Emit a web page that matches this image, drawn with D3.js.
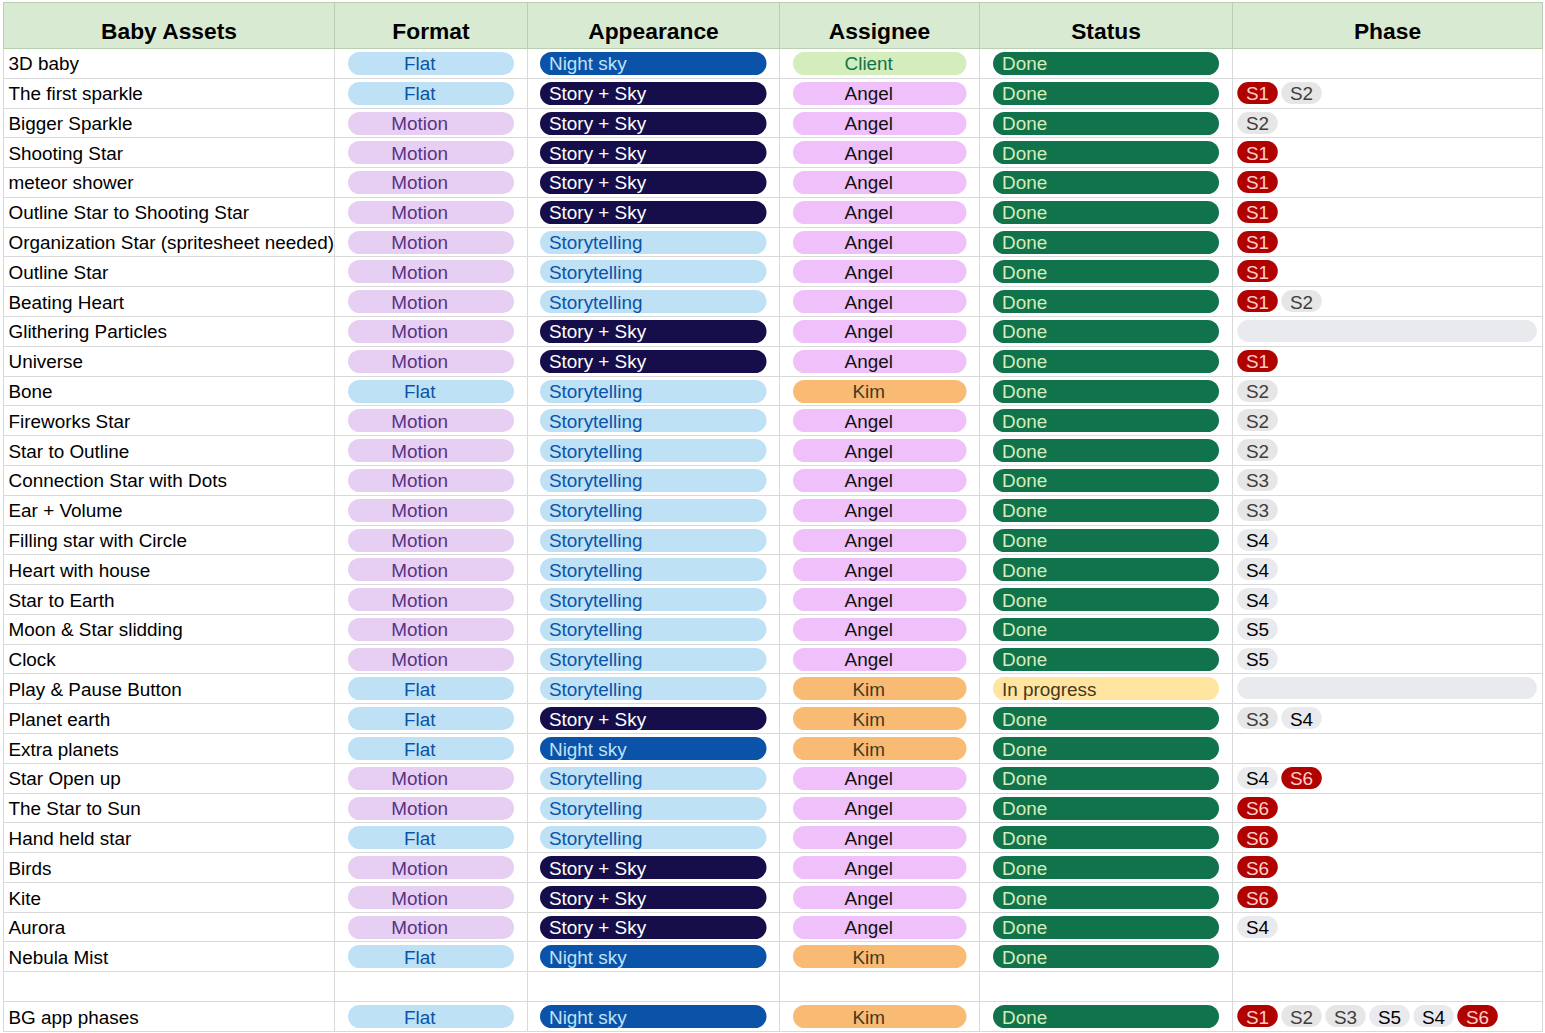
<!DOCTYPE html>
<html><head><meta charset="utf-8">
<script src="https://cdnjs.cloudflare.com/ajax/libs/d3/7.8.5/d3.min.js"></script>
<style>html,body{margin:0;padding:0;background:#fff}svg{display:block}text{font-family:"Liberation Sans",Arial,sans-serif}</style>
</head><body><svg id="c" width="1545" height="1033"></svg>
<script>
const headers=["Baby Assets","Format","Appearance","Assignee","Status","Phase"];
const assets=["3D baby","The first sparkle","Bigger Sparkle","Shooting Star","meteor shower","Outline Star to Shooting Star","Organization Star (spritesheet needed)","Outline Star","Beating Heart","Glithering Particles","Universe","Bone","Fireworks Star","Star to Outline","Connection Star with Dots","Ear + Volume","Filling star with Circle","Heart with house","Star to Earth","Moon & Star slidding","Clock","Play & Pause Button","Planet earth","Extra planets","Star Open up","The Star to Sun","Hand held star","Birds","Kite","Aurora","Nebula Mist","","BG app phases"];
const formats=["Flat","Flat","Motion","Motion","Motion","Motion","Motion","Motion","Motion","Motion","Motion","Flat","Motion","Motion","Motion","Motion","Motion","Motion","Motion","Motion","Motion","Flat","Flat","Flat","Motion","Motion","Flat","Motion","Motion","Motion","Flat","","Flat"];
const SS="Story + Sky",ST="Storytelling",NS="Night sky";
const appearances=[NS,SS,SS,SS,SS,SS,ST,ST,ST,SS,SS,ST,ST,ST,ST,ST,ST,ST,ST,ST,ST,ST,SS,NS,ST,ST,ST,SS,SS,SS,NS,"",NS];
const assignees=["Client","Angel","Angel","Angel","Angel","Angel","Angel","Angel","Angel","Angel","Angel","Kim","Angel","Angel","Angel","Angel","Angel","Angel","Angel","Angel","Angel","Kim","Kim","Kim","Angel","Angel","Angel","Angel","Angel","Angel","Kim","","Kim"];
const statuses=["Done","Done","Done","Done","Done","Done","Done","Done","Done","Done","Done","Done","Done","Done","Done","Done","Done","Done","Done","Done","Done","In progress","Done","Done","Done","Done","Done","Done","Done","Done","Done","","Done"];
// [""] marks a present-but-empty phase chip
const phases=[[],["S1","S2"],["S2"],["S1"],["S1"],["S1"],["S1"],["S1"],["S1","S2"],[""],["S1"],["S2"],["S2"],["S2"],["S3"],["S3"],["S4"],["S4"],["S4"],["S5"],["S5"],[""],["S3","S4"],[],["S4","S6"],["S6"],["S6"],["S6"],["S6"],["S4"],[],[],["S1","S2","S3","S5","S4","S6"]];

const colors={Flat:["#bfe1f6","#0a53a8"],Motion:["#e6cff2","#5a3286"],[NS]:["#0a53a8","#bfe1f6"],[SS]:["#150e4a","#ffffff"],[ST]:["#bfe1f6","#0a53a8"],Client:["#d4edbc","#11734b"],Angel:["#f0c0fb","#111111"],Kim:["#f9bb73","#473821"],Done:["#11734b","#d4edbc"],"In progress":["#ffe5a0","#473821"],S1:["#b10202","#ffcfc9"],S6:["#b10202","#ffcfc9"],S2:["#e6e6e6","#3d3d3d"],S3:["#e6e6e6","#3d3d3d"],S4:["#e8eaed","#000000"],S5:["#e8eaed","#000000"],"":["#e8eaed","#000"]};

const svg=d3.select("#c");
const colEdges=[3,334,527,779,979,1232,1542];
const yRaw=d3.scaleLinear().domain([0,33]).range([48,1030.8]);
const y=i=>Math.round(yRaw(i));
const tRaw=d3.scaleLinear().domain([0,33]).range([70.2,1053.6]);
const ty=i=>Math.round(tRaw(i));
const pillH=23;
const rows=d3.range(assets.length);

svg.append("rect").attr("x",3).attr("y",2).attr("width",1539).attr("height",46.5).attr("fill","#d9ead3");
svg.append("g").selectAll("line").data(d3.range(1,34)).join("line")
 .attr("x1",3).attr("x2",1543).attr("y1",d=>y(d)+.5).attr("y2",d=>y(d)+.5)
 .attr("stroke","#d9d9d9");
svg.append("g").selectAll("line").data(colEdges).join("line")
 .attr("x1",d=>d+.5).attr("x2",d=>d+.5).attr("y1",48).attr("y2",1032).attr("stroke","#d9d9d9");
svg.append("g").selectAll("line").data(colEdges).join("line")
 .attr("x1",d=>d+.5).attr("x2",d=>d+.5).attr("y1",2).attr("y2",48).attr("stroke","#b9cfb2");
svg.append("line").attr("x1",3).attr("x2",1543).attr("y1",2.5).attr("y2",2.5).attr("stroke","#b9cfb2");
svg.append("line").attr("x1",3).attr("x2",1543).attr("y1",48.5).attr("y2",48.5).attr("stroke","#b9cfb2");

svg.append("g").selectAll("text").data(headers).join("text")
 .attr("x",(d,i)=>(colEdges[i]+colEdges[i+1])/2+.5).attr("y",38.5).attr("text-anchor","middle")
 .attr("font-weight","bold").attr("font-size",22.8).attr("fill","#000").text(d=>d);

const fs=18.9;
svg.append("g").selectAll("text").data(rows.filter(i=>assets[i])).join("text")
 .attr("x",8.5).attr("y",ty).attr("font-size",fs).attr("fill","#000").text(i=>assets[i]);

function pillCol(vals,x0,x1,anchor,tx){
 const g=svg.append("g");
 const idx=rows.filter(i=>vals[i]);
 g.selectAll("rect").data(idx).join("rect")
  .attr("x",x0).attr("width",x1-x0).attr("y",i=>y(i)+4).attr("height",pillH).attr("rx",11.5)
  .attr("fill",i=>colors[vals[i]][0]);
 g.selectAll("text").data(idx).join("text")
  .attr("x",tx).attr("y",ty).attr("text-anchor",anchor).attr("font-size",fs)
  .attr("fill",i=>colors[vals[i]][1]).text(i=>vals[i]);
}
pillCol(formats,348,514,"middle",419.7);
pillCol(appearances,540,766.5,"start",549);
pillCol(assignees,793,966.5,"middle",868.7);
pillCol(statuses,993,1219,"start",1002);

const chipX=1237.3,chipW=40.5,chipStep=44;
const chips=rows.flatMap(i=>phases[i].map((p,j)=>({i,j,p})));
const cg=svg.append("g");
cg.selectAll("rect").data(chips).join("rect")
 .attr("x",d=>chipX+d.j*chipStep).attr("width",d=>d.p?chipW:299.5)
 .attr("y",d=>y(d.i)+4).attr("height",22).attr("rx",11)
 .attr("fill",d=>colors[d.p][0]);
cg.selectAll("text").data(chips.filter(d=>d.p)).join("text")
 .attr("x",d=>chipX+d.j*chipStep+chipW/2).attr("y",d=>ty(d.i)-0.5)
 .attr("text-anchor","middle").attr("font-size",fs).attr("fill",d=>colors[d.p][1]).text(d=>d.p);
</script></body></html>
